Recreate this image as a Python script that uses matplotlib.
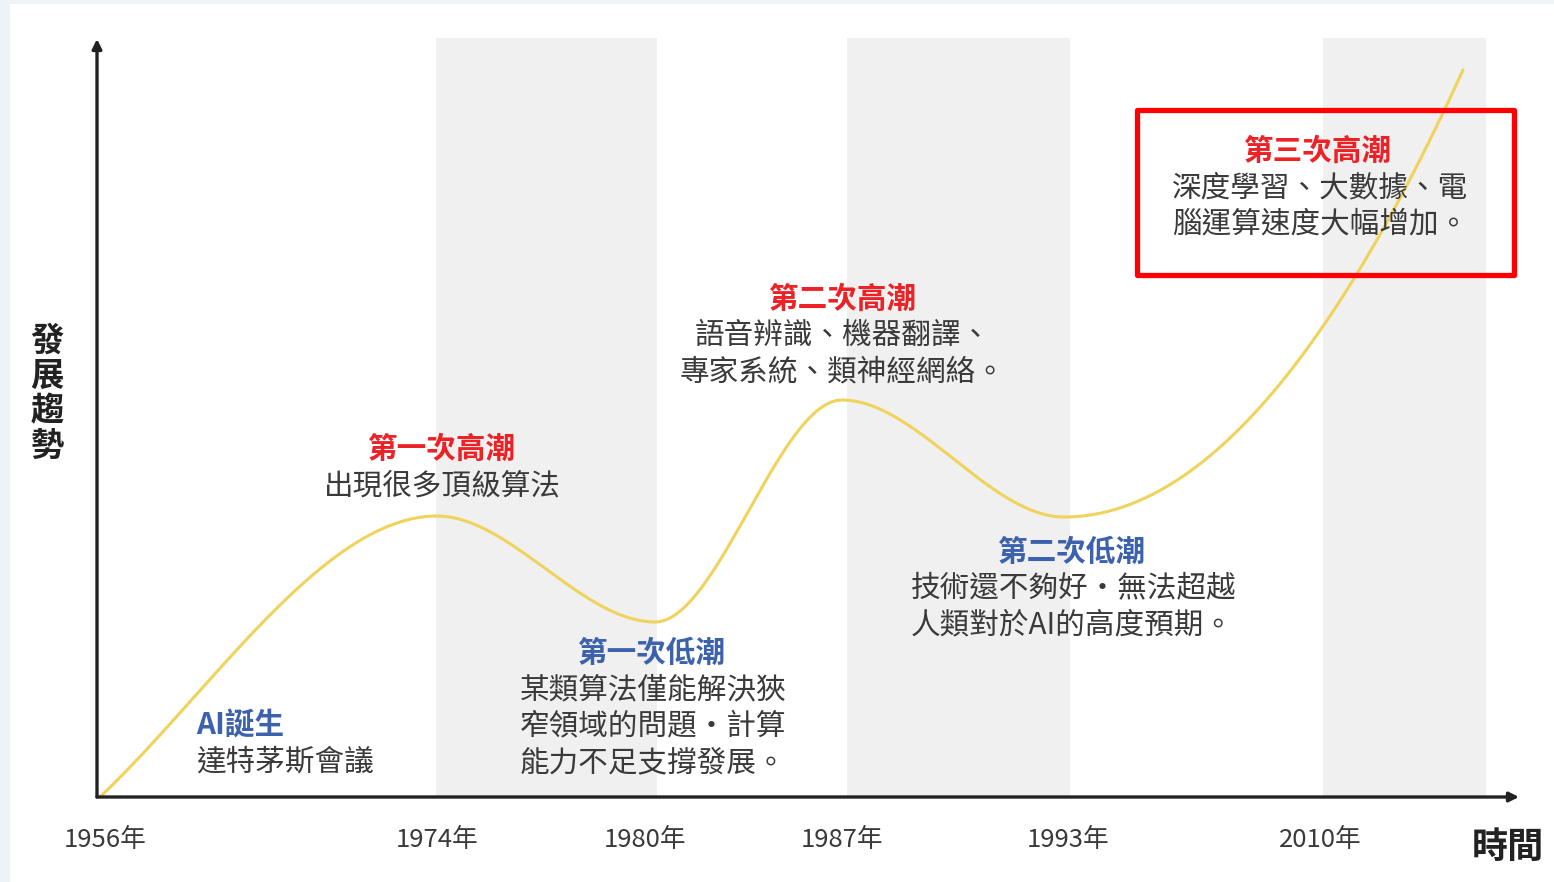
import numpy as np
import matplotlib.pyplot as plt
from matplotlib.patches import Rectangle

plt.rcParams['font.family'] = ['Noto Sans CJK TC', 'DejaVu Sans']

# x positions are distances along the time axis, y is the "trend" height
year_labels = ['1956年', '1974年', '1980年', '1987年', '1993年', '2010年']
year_pos = [8, 340, 548, 745, 971, 1223]

# shaded periods (start, end) along the time axis
band_starts = [339, 750, 1226]
band_ends = [560, 973, 1389]
band_top = 759

# key points of the trend curve (start, peaks, troughs, end) and slopes there
curve_x = [3, 340, 558, 745, 967, 1366]
curve_y = [0, 281, 175, 397, 280, 727]
curve_slope = [0.95, 0, 0, 0, 0, 2.2]

RED = '#ec2227'
BLUE = '#3d62ad'
GRAY = '#3a3a3a'
CURVE = '#efd35c'


def hermite(x, y, d, xs):
    """Piecewise cubic Hermite curve through the key points."""
    x = np.asarray(x, float)
    y = np.asarray(y, float)
    d = np.asarray(d, float)
    h = np.diff(x)
    idx = np.clip(np.searchsorted(x, xs) - 1, 0, len(x) - 2)
    t = (xs - x[idx]) / h[idx]
    h00 = 2 * t**3 - 3 * t**2 + 1
    h10 = t**3 - 2 * t**2 + t
    h01 = -2 * t**3 + 3 * t**2
    h11 = t**3 - t**2
    return h00 * y[idx] + h10 * h[idx] * d[idx] + h01 * y[idx + 1] + h11 * h[idx] * d[idx + 1]


fig = plt.figure(figsize=(15.54, 8.82), dpi=100)
ax = fig.add_axes([0, 0, 1, 1])
ax.set_xlim(-97, 1554 - 97)
ax.set_ylim(-85, 797)
ax.axis('off')

# faint page edges
ax.add_patch(Rectangle((-97, -85), 10, 882, color='#eef3f8', lw=0, zorder=0))
ax.add_patch(Rectangle((-97, 793), 1554, 4, color='#eef3f8', lw=0, zorder=0))

# shaded periods
for s, e in zip(band_starts, band_ends):
    ax.add_patch(Rectangle((s, 0), e - s, band_top, color='#f0f0f0', lw=0, zorder=1))

# axes with arrows
ax.annotate('', xy=(0, 758), xytext=(0, 0),
            arrowprops=dict(arrowstyle='-|>', color='#222222', lw=2.4, mutation_scale=14,
                            shrinkA=0, shrinkB=0), zorder=5)
ax.annotate('', xy=(1422, 0), xytext=(0, 0),
            arrowprops=dict(arrowstyle='-|>', color='#222222', lw=2.4, mutation_scale=14,
                            shrinkA=0, shrinkB=0), zorder=5)

# trend curve
xs = np.linspace(curve_x[0], curve_x[-1], 800)
ax.plot(xs, hermite(curve_x, curve_y, curve_slope, xs), color=CURVE, lw=2.2, zorder=3,
        solid_capstyle='round')

# year ticks
for lab, p in zip(year_labels, year_pos):
    ax.text(p, -43, lab, ha='center', va='center', fontsize=18.5, color=GRAY)

ax.text(1411, -50, '時間', ha='center', va='center', fontsize=26, fontweight='bold', color='#222222')
ax.text(-50, 403, '\n'.join('發展趨勢'), ha='center', va='center', fontsize=24,
        fontweight='bold', color='#222222', linespacing=1.08)

fs = 21.3
lh = 36.5


def block(x, y, title, tcolor, lines, tx=None, ha='center'):
    ax.text(x if tx is None else tx, y, title, ha='center',
            va='center', fontsize=fs, fontweight='bold', color=tcolor, zorder=6)
    for i, line in enumerate(lines):
        ax.text(x, y - lh * (i + 1), line, ha=ha, va='center', fontsize=fs, color=GRAY, zorder=6)


ax.text(99, 72, 'AI誕生', ha='left', va='center', fontsize=fs, fontweight='bold', color=BLUE, zorder=6)
ax.text(99, 35, '達特茅斯會議', ha='left', va='center', fontsize=fs, color=GRAY, zorder=6)

block(345, 348, '第一次高潮', RED, ['出現很多頂級算法'])
block(423, 144, '第一次低潮', BLUE,
      ['某類算法僅能解決狹', '窄領域的問題・計算', '能力不足支撐發展。'], tx=555, ha='left')
block(746, 498, '第二次高潮', RED, ['語音辨識、機器翻譯、', '專家系統、類神經網絡。'])
block(814, 245, '第二次低潮', BLUE,
      ['技術還不夠好・無法超越', '人類對於AI的高度預期。'], tx=975, ha='left')
block(1075, 646, '第三次高潮', RED,
      ['深度學習、大數據、電', '腦運算速度大幅增加。'], tx=1221, ha='left')

# highlight box
ax.add_patch(Rectangle((1040, 522), 377, 165, fill=False, ec='#ff0000', lw=3.8, zorder=7,
                       joinstyle='round'))

fig.savefig('out.png', dpi=100)
